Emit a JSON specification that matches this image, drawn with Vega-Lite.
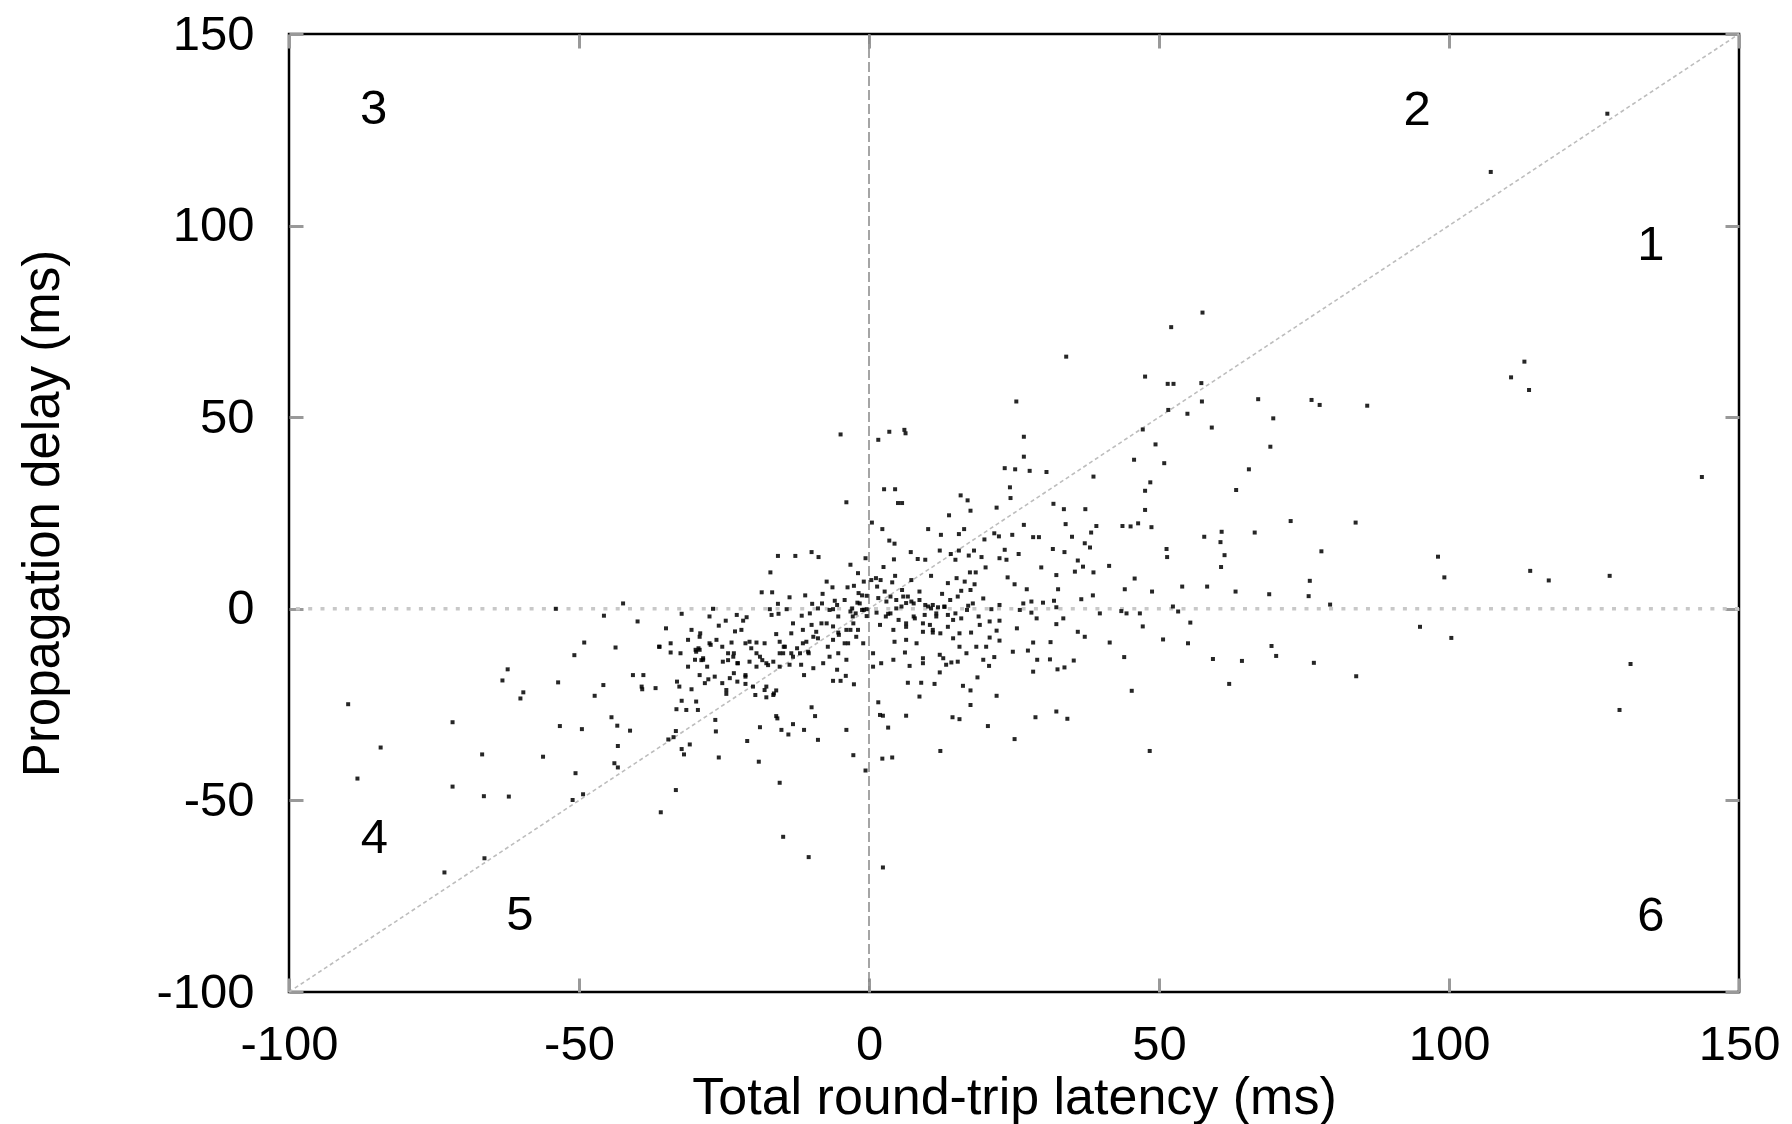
{
  "$schema": "https://vega.github.io/schema/vega-lite/v6.json",
  "width": 1450,
  "height": 958,
  "autosize": {"type": "none"},
  "padding": {"left": 289, "top": 34, "right": 53, "bottom": 132},
  "background": "white",
  "config": {
    "view": {"stroke": "#000", "strokeWidth": 2.5},
    "font": "Liberation Sans",
    "axis": {
      "grid": false,
      "domain": false,
      "tickColor": "#999",
      "tickWidth": 3,
      "tickSize": -14,
      "labelFlush": false,
      "labelOverlap": false,
      "labelExpr": "'' + datum.value",
      "labelFont": "Liberation Sans",
      "labelFontSize": 49,
      "labelColor": "#000",
      "titleFont": "Liberation Sans",
      "titleFontSize": 51,
      "titleFontWeight": "normal",
      "titleColor": "#000"
    }
  },
  "datasets": {
    "pts": [
      {"x":127.3,"y":129.2},{"x":107.2,"y":114.0},
      {"x":57.5,"y":77.3},{"x":52.1,"y":73.5},{"x":34.0,"y":65.8},{"x":47.6,"y":60.6},{"x":51.5,"y":58.7},{"x":52.5,"y":58.7},{"x":57.3,"y":58.9},{"x":113.0,"y":64.5},{"x":110.7,"y":60.4},{"x":113.8,"y":57.1},{"x":25.4,"y":54.1},{"x":57.4,"y":54.1},{"x":67.1,"y":54.7},{"x":76.3,"y":54.5},{"x":77.7,"y":53.2},{"x":85.9,"y":53.0},{"x":51.6,"y":51.9},{"x":54.9,"y":50.9},{"x":59.1,"y":47.3},{"x":69.7,"y":49.7},{"x":47.2,"y":46.8},{"x":49.4,"y":42.9},{"x":69.2,"y":42.3},{"x":-4.9,"y":45.5},{"x":1.6,"y":44.1},{"x":3.5,"y":46.2},{"x":6.1,"y":46.7},{"x":6.3,"y":45.8},{"x":26.7,"y":44.9},
      {"x":65.5,"y":36.4},{"x":143.6,"y":34.4},{"x":63.3,"y":31.0},{"x":72.7,"y":22.9},{"x":83.9,"y":22.5},{"x":66.5,"y":19.9},{"x":60.8,"y":20.1},{"x":57.8,"y":18.8},{"x":60.6,"y":17.4},{"x":61.3,"y":14.0},{"x":78.0,"y":15.0},{"x":98.1,"y":13.6},{"x":60.7,"y":10.9},{"x":114.0,"y":9.9},{"x":117.2,"y":7.4},{"x":127.7,"y":8.6},{"x":99.2,"y":8.2},{"x":76.0,"y":7.3},{"x":58.3,"y":5.8},{"x":63.2,"y":4.5},{"x":69.0,"y":3.8},{"x":75.8,"y":3.3},{"x":79.5,"y":1.1},{"x":95.0,"y":-4.7},{"x":100.4,"y":-7.6},{"x":69.4,"y":-9.7},{"x":70.2,"y":-12.3},{"x":59.3,"y":-13.1},{"x":64.3,"y":-13.6},{"x":76.7,"y":-14.1},{"x":131.3,"y":-14.4},{"x":84.0,"y":-17.6},{"x":62.1,"y":-19.6},{"x":129.4,"y":-26.4},
      {"x":-3.9,"y":27.8},{"x":2.6,"y":31.2},{"x":4.5,"y":31.2},{"x":5.0,"y":27.6},{"x":0.5,"y":22.5},{"x":2.3,"y":20.8},{"x":3.5,"y":17.8},{"x":4.4,"y":17.0},{"x":4.3,"y":12.9},{"x":2.5,"y":10.9},{"x":4.5,"y":8.6},{"x":-15.7,"y":13.8},{"x":-12.7,"y":13.8},{"x":-9.9,"y":14.8},{"x":-8.7,"y":13.5},{"x":-17.0,"y":9.5},{"x":-3.2,"y":11.5},{"x":-0.6,"y":13.2},{"x":-1.9,"y":9.3},{"x":-7.3,"y":7.1},{"x":-6.3,"y":5.6},{"x":-3.7,"y":5.6},{"x":-2.6,"y":6.0},{"x":1.2,"y":8.0},{"x":2.0,"y":7.5},{"x":4.0,"y":6.9},{"x":-0.9,"y":7.1},{"x":-18.5,"y":4.3},{"x":-16.7,"y":4.3},{"x":-13.7,"y":3.0},{"x":-11.0,"y":3.5},{"x":-8.0,"y":3.9},{"x":-5.9,"y":2.1},{"x":-1.8,"y":4.1},{"x":-0.4,"y":3.4},{"x":1.6,"y":2.8},{"x":3.0,"y":1.9},{"x":-42.4,"y":1.4},{"x":-26.9,"y":0.0},{"x":-45.7,"y":-1.8},{"x":-39.9,"y":-3.3},{"x":-32.3,"y":-1.3},{"x":-27.5,"y":-2.0},{"x":-24.7,"y":-3.1},{"x":-22.8,"y":-1.6},{"x":-21.7,"y":-3.1},{"x":-21.1,"y":-2.2},{"x":-17.1,"y":-0.1},{"x":-16.8,"y":-1.6},{"x":-15.7,"y":1.3},{"x":-15.6,"y":-1.3},{"x":-14.2,"y":-0.1},{"x":-11.6,"y":-1.8},{"x":-9.8,"y":1.3},{"x":-10.2,"y":-1.2},{"x":-8.8,"y":0.1},{"x":-6.2,"y":-0.1},{"x":-5.3,"y":-2.0},{"x":-3.2,"y":-0.7},{"x":-2.3,"y":-1.2},{"x":-1.2,"y":-0.3},{"x":-0.4,"y":-0.1},{"x":-0.4,"y":-1.9},{"x":-2.8,"y":-2.0},{"x":-2.0,"y":1.6},{"x":-1.2,"y":3.5},{"x":1.3,"y":-1.0},{"x":3.3,"y":-1.3},{"x":4.7,"y":0.1},{"x":-35.0,"y":-5.1},{"x":-30.6,"y":-5.5},{"x":-29.2,"y":-7.3},{"x":-25.9,"y":-4.4},{"x":-23.1,"y":-5.9},{"x":-22.0,"y":-5.5},{"x":-43.7,"y":-10.1},{"x":-36.1,"y":-9.9},{"x":-34.2,"y":-9.0},{"x":-31.2,"y":-8.1},{"x":-27.5,"y":-9.0},{"x":-26.3,"y":-8.1},{"x":-23.7,"y":-8.8},{"x":-20.6,"y":-8.6},{"x":-19.4,"y":-8.8},{"x":-18.0,"y":-9.0},{"x":-16.0,"y":-6.6},{"x":-13.1,"y":-3.8},{"x":-13.4,"y":-6.4},{"x":-11.4,"y":-5.5},{"x":-9.9,"y":-4.2},{"x":-9.1,"y":-6.0},{"x":-8.2,"y":-3.8},{"x":-7.3,"y":-3.8},{"x":-6.2,"y":-4.6},{"x":-5.3,"y":-6.2},{"x":-3.9,"y":-5.5},{"x":-2.7,"y":-3.8},{"x":-1.9,"y":-5.5},{"x":-3.6,"y":-9.0},{"x":-1.0,"y":-9.0},{"x":1.9,"y":-4.2},{"x":2.9,"y":-2.0},{"x":4.2,"y":-5.5},{"x":4.4,"y":-8.6},{"x":-10.8,"y":-8.6},{"x":-9.6,"y":-7.3},{"x":-14.5,"y":-9.9},{"x":-15.4,"y":-8.6},
      {"x":26.7,"y":39.7},{"x":23.4,"y":36.7},{"x":25.2,"y":36.4},{"x":27.7,"y":36.0},{"x":30.6,"y":35.7},{"x":45.7,"y":38.9},{"x":50.9,"y":38.0},{"x":38.7,"y":34.5},{"x":48.5,"y":33.0},{"x":47.6,"y":30.8},{"x":24.3,"y":31.7},{"x":24.4,"y":28.9},{"x":15.8,"y":29.6},{"x":17.0,"y":28.3},{"x":5.7,"y":27.6},{"x":31.8,"y":27.4},{"x":33.6,"y":26.0},{"x":37.3,"y":26.0},{"x":47.6,"y":25.8},{"x":13.8,"y":24.4},{"x":17.5,"y":25.6},{"x":22.0,"y":26.4},{"x":10.2,"y":20.8},{"x":12.4,"y":19.3},{"x":15.5,"y":19.5},{"x":16.4,"y":20.8},{"x":19.9,"y":18.1},{"x":21.6,"y":19.7},{"x":22.4,"y":18.9},{"x":24.7,"y":19.3},{"x":26.7,"y":21.9},{"x":28.3,"y":18.7},{"x":29.3,"y":18.7},{"x":33.9,"y":22.1},{"x":35.0,"y":18.8},{"x":38.3,"y":19.9},{"x":39.2,"y":21.6},{"x":43.7,"y":21.6},{"x":45.1,"y":21.5},{"x":46.4,"y":22.3},{"x":48.7,"y":21.3},{"x":37.2,"y":17.1},{"x":38.1,"y":16.0},{"x":51.3,"y":15.6},{"x":51.4,"y":13.5},{"x":7.2,"y":14.8},{"x":8.4,"y":13.0},{"x":9.7,"y":12.8},{"x":12.2,"y":15.2},{"x":14.1,"y":14.3},{"x":15.5,"y":15.2},{"x":14.9,"y":12.8},{"x":17.2,"y":13.9},{"x":18.1,"y":15.2},{"x":19.4,"y":13.5},{"x":20.1,"y":10.8},{"x":22.5,"y":13.2},{"x":23.4,"y":15.4},{"x":23.7,"y":12.8},{"x":25.8,"y":14.3},{"x":31.7,"y":15.6},{"x":33.7,"y":14.8},{"x":29.7,"y":10.8},{"x":35.5,"y":9.7},{"x":36.9,"y":11.0},{"x":38.7,"y":9.5},{"x":36.0,"y":12.6},{"x":41.4,"y":11.2},{"x":45.8,"y":7.9},{"x":54.0,"y":5.8},{"x":48.8,"y":4.5},{"x":44.1,"y":5.1},{"x":10.7,"y":8.6},{"x":13.6,"y":6.7},{"x":15.1,"y":8.0},{"x":16.5,"y":7.1},{"x":17.4,"y":9.5},{"x":18.4,"y":9.5},{"x":18.2,"y":6.4},{"x":17.5,"y":4.9},{"x":23.9,"y":8.2},{"x":25.1,"y":6.4},{"x":32.3,"y":8.8},{"x":27.2,"y":5.1},{"x":32.6,"y":5.1},{"x":38.6,"y":3.5},{"x":36.6,"y":2.5},{"x":7.3,"y":7.5},{"x":8.7,"y":4.5},{"x":12.6,"y":3.9},{"x":15.3,"y":3.2},{"x":15.9,"y":4.7},{"x":19.7,"y":2.7},{"x":26.6,"y":1.4},{"x":28.0,"y":1.9},{"x":30.0,"y":1.6},{"x":31.9,"y":2.1},{"x":5.9,"y":3.2},{"x":6.4,"y":1.5},{"x":5.6,"y":0.6},{"x":7.3,"y":1.9},{"x":10.2,"y":0.6},{"x":11.0,"y":1.0},{"x":11.9,"y":0.4},{"x":13.0,"y":0.6},{"x":13.6,"y":-1.6},{"x":9.6,"y":-1.6},{"x":11.6,"y":-2.0},{"x":17.1,"y":0.8},{"x":21.1,"y":-0.1},{"x":22.5,"y":1.0},{"x":26.0,"y":-0.3},{"x":28.0,"y":-1.0},{"x":28.9,"y":-2.5},{"x":32.3,"y":0.4},{"x":33.5,"y":-2.5},{"x":39.8,"y":-1.2},{"x":43.5,"y":-0.6},{"x":44.4,"y":-1.2},{"x":46.7,"y":-1.2},{"x":52.4,"y":0.6},{"x":53.3,"y":-0.7},{"x":55.4,"y":-3.6},{"x":47.2,"y":-4.6},{"x":36.0,"y":-6.0},{"x":37.2,"y":-7.3},{"x":32.3,"y":-4.0},{"x":25.5,"y":-5.1},{"x":28.3,"y":-8.8},{"x":31.3,"y":-8.7},{"x":41.5,"y":-8.8},{"x":50.7,"y":-8.0},{"x":55.0,"y":-9.0},{"x":6.4,"y":-3.8},{"x":7.9,"y":-2.5},{"x":9.3,"y":-6.0},{"x":11.0,"y":-6.2},{"x":10.5,"y":-4.2},{"x":14.5,"y":-2.9},{"x":15.6,"y":-6.4},{"x":17.6,"y":-6.2},{"x":19.1,"y":-4.2},{"x":20.8,"y":-3.3},{"x":22.5,"y":-3.1},{"x":14.5,"y":-7.7},{"x":20.8,"y":-7.5},{"x":22.0,"y":-5.7},{"x":22.5,"y":-8.3},{"x":8.2,"y":-9.0},{"x":6.4,"y":-8.1},{"x":15.6,"y":-9.9},{"x":18.5,"y":-9.9},{"x":20.2,"y":-9.9},
      {"x":-29.8,"y":-11.2},{"x":-29.2,"y":-10.7},{"x":-24.3,"y":-11.6},{"x":-23.4,"y":-12.5},{"x":-22.6,"y":-14.2},{"x":-30.0,"y":-13.3},{"x":-28.6,"y":-13.3},{"x":-25.2,"y":-13.8},{"x":-20.6,"y":-13.8},{"x":-19.4,"y":-15.1},{"x":-18.8,"y":-12.5},{"x":-17.7,"y":-14.2},{"x":-16.5,"y":-13.8},{"x":-15.4,"y":-15.1},{"x":-14.8,"y":-11.6},{"x":-13.1,"y":-12.5},{"x":-11.9,"y":-11.6},{"x":-10.5,"y":-11.2},{"x":-13.7,"y":-14.6},{"x":-11.7,"y":-14.6},{"x":-9.6,"y":-15.5},{"x":-7.9,"y":-14.2},{"x":-6.8,"y":-12.5},{"x":-5.3,"y":-11.6},{"x":-5.5,"y":-15.9},{"x":-3.9,"y":-13.3},{"x":0.7,"y":-15.1},{"x":2.1,"y":-14.2},{"x":4.2,"y":-13.3},{"x":0.7,"y":-11.6},{"x":-40.7,"y":-17.3},{"x":-38.9,"y":-17.3},{"x":-45.8,"y":-19.9},{"x":-39.2,"y":-20.3},{"x":-39.1,"y":-21.0},{"x":-36.8,"y":-20.7},{"x":-33.1,"y":-19.0},{"x":-32.7,"y":-20.3},{"x":-30.6,"y":-21.0},{"x":-29.2,"y":-17.3},{"x":-28.3,"y":-19.4},{"x":-27.7,"y":-18.4},{"x":-24.0,"y":-18.1},{"x":-22.7,"y":-19.0},{"x":-21.3,"y":-17.3},{"x":-21.3,"y":-19.6},{"x":-19.6,"y":-22.5},{"x":-17.7,"y":-20.3},{"x":-16.0,"y":-21.3},{"x":-16.5,"y":-22.5},{"x":-17.7,"y":-23.1},{"x":-24.6,"y":-22.2},{"x":-11.2,"y":-17.3},{"x":-6.2,"y":-18.8},{"x":-4.9,"y":-18.8},{"x":-4.0,"y":-17.5},{"x":-2.6,"y":-19.7},{"x":-9.9,"y":-25.7},{"x":-9.3,"y":-28.0},{"x":-16.0,"y":-28.0},{"x":-15.8,"y":-28.6},{"x":-13.1,"y":-30.1},{"x":-15.1,"y":-31.6},{"x":-13.9,"y":-32.8},{"x":-11.2,"y":-31.6},{"x":-8.8,"y":-34.2},{"x":-3.9,"y":-31.6},{"x":-18.8,"y":-30.9},{"x":-21.0,"y":-34.5},{"x":1.6,"y":-24.4},{"x":1.9,"y":-27.7},{"x":2.4,"y":-27.9},{"x":3.3,"y":-31.0},{"x":2.3,"y":-39.1},{"x":4.0,"y":-38.8},{"x":-2.7,"y":-38.2},{"x":-0.6,"y":-42.2},{"x":-19.0,"y":-39.9},{"x":-15.4,"y":-45.4},{"x":-25.9,"y":-38.8},{"x":-33.3,"y":-47.3},{"x":-35.9,"y":-53.1},{"x":-14.8,"y":-59.5},{"x":-33.3,"y":-31.9},{"x":-33.7,"y":-33.5},{"x":-32.3,"y":-36.6},{"x":-31.9,"y":-38.0},{"x":-30.9,"y":-35.4},{"x":-26.5,"y":-29.0},{"x":-26.4,"y":-32.0},{"x":-29.8,"y":-24.2},{"x":-29.5,"y":-26.4},{"x":-31.5,"y":-26.4},{"x":-33.2,"y":-26.2},{"x":-32.3,"y":-24.0},{"x":-44.4,"y":-28.3},{"x":-43.4,"y":-30.5},{"x":-41.2,"y":-31.8},{"x":-43.3,"y":-35.8},{"x":-43.9,"y":-40.3},{"x":-43.3,"y":-41.4},{"x":-34.6,"y":-34.1},
      {"x":6.2,"y":-11.4},{"x":7.0,"y":-14.9},{"x":9.3,"y":-12.9},{"x":9.3,"y":-14.2},{"x":12.2,"y":-12.0},{"x":12.8,"y":-12.9},{"x":13.3,"y":-14.6},{"x":14.2,"y":-14.0},{"x":15.3,"y":-13.8},{"x":16.8,"y":-11.6},{"x":19.7,"y":-13.3},{"x":21.6,"y":-12.6},{"x":20.7,"y":-14.9},{"x":24.8,"y":-11.2},{"x":27.4,"y":-10.9},{"x":29.0,"y":-13.3},{"x":31.2,"y":-13.2},{"x":35.3,"y":-13.5},{"x":28.3,"y":-16.4},{"x":32.5,"y":-15.8},{"x":33.7,"y":-15.3},{"x":44.0,"y":-12.6},{"x":45.3,"y":-21.4},{"x":12.2,"y":-16.6},{"x":6.7,"y":-19.3},{"x":9.0,"y":-19.3},{"x":11.3,"y":-19.6},{"x":16.2,"y":-20.1},{"x":17.5,"y":-21.3},{"x":18.7,"y":-17.9},{"x":8.7,"y":-22.9},{"x":22.0,"y":-22.7},{"x":17.5,"y":-25.1},{"x":6.4,"y":-27.9},{"x":14.4,"y":-28.3},{"x":15.6,"y":-28.8},{"x":20.5,"y":-30.6},{"x":28.7,"y":-28.3},{"x":32.3,"y":-26.8},{"x":34.2,"y":-28.7},{"x":25.1,"y":-34.0},{"x":12.3,"y":-37.1},{"x":48.4,"y":-37.1},
      {"x":-54.0,"y":0.0},{"x":-49.1,"y":-8.8},{"x":-50.8,"y":-12.1},{"x":-62.3,"y":-15.8},{"x":-63.2,"y":-18.7},{"x":-53.6,"y":-19.2},{"x":-59.6,"y":-21.8},{"x":-60.1,"y":-23.4},{"x":-47.3,"y":-22.7},{"x":-89.8,"y":-24.9},{"x":-71.8,"y":-29.6},{"x":-53.3,"y":-30.6},{"x":-49.5,"y":-31.4},{"x":-84.2,"y":-36.2},{"x":-66.7,"y":-38.0},{"x":-56.2,"y":-38.6},{"x":-50.6,"y":-42.9},{"x":-88.2,"y":-44.3},{"x":-71.8,"y":-46.4},{"x":-66.4,"y":-48.9},{"x":-62.1,"y":-49.0},{"x":-51.1,"y":-49.9},{"x":-49.3,"y":-48.4},{"x":-66.3,"y":-65.1},{"x":-73.2,"y":-68.8},
      {"x":-10.4,"y":-64.8},{"x":2.4,"y":-67.5},
      {"x":-29.1,"y":-6.4},{"x":-29.4,"y":-10.3},{"x":-28.6,"y":-12.9},{"x":-27.3,"y":-9.4},{"x":-25.3,"y":-9.9},{"x":-24.3,"y":-13.4},{"x":-23.3,"y":-11.6},{"x":-22.7,"y":-14.2},{"x":-21.3,"y":-9.0},{"x":-20.3,"y":-10.3},{"x":-19.4,"y":-11.6},{"x":-18.4,"y":-13.4},{"x":-17.4,"y":-14.7},{"x":-15.4,"y":-11.6},{"x":-14.7,"y":-9.9},{"x":-13.4,"y":-11.6},{"x":-12.4,"y":-10.3},{"x":-11.4,"y":-9.0},{"x":-10.4,"y":-11.6},{"x":-8.8,"y":-7.7},{"x":-7.1,"y":-9.9},{"x":-6.2,"y":-8.1},{"x":-5.2,"y":-6.8},{"x":-4.2,"y":-9.0},{"x":-3.2,"y":-5.5},{"x":-2.2,"y":-7.3},
      {"x":0.4,"y":7.5},{"x":1.4,"y":5.8},{"x":2.7,"y":4.5},{"x":3.7,"y":3.2},{"x":4.7,"y":2.3},{"x":5.7,"y":4.9},{"x":6.7,"y":3.2},{"x":7.7,"y":1.4},{"x":8.7,"y":2.3},{"x":9.7,"y":1.0},{"x":10.7,"y":0.1},{"x":11.6,"y":-1.2},{"x":13.0,"y":0.5},{"x":14.0,"y":2.3},{"x":14.9,"y":-1.2},{"x":15.9,"y":-2.5},{"x":16.9,"y":-0.3},{"x":17.9,"y":1.4},{"x":18.9,"y":-2.0},{"x":3.7,"y":-1.2},{"x":5.1,"y":-2.9},{"x":6.4,"y":-4.7},{"x":7.7,"y":-2.0},{"x":9.3,"y":-3.8},{"x":11.0,"y":-5.5},{"x":12.3,"y":-6.4},{"x":13.6,"y":-4.7},
      {"x":-36.2,"y":-9.9},{"x":-34.2,"y":-11.4},{"x":-32.5,"y":-11.6},{"x":-31.2,"y":-15.1},{"x":-29.9,"y":-10.7},{"x":-28.9,"y":-13.4},{"x":-27.9,"y":-15.1},{"x":-26.6,"y":-17.7},{"x":-25.3,"y":-19.4},{"x":-24.6,"y":-21.2},{"x":-23.3,"y":-16.8},{"x":-21.3,"y":-17.7},{"x":-20.0,"y":-20.3},{"x":-18.0,"y":-21.2},{"x":-16.4,"y":-22.1},
      {"x":-8.1,"y":1.4},{"x":-6.8,"y":-0.3},{"x":-5.5,"y":1.0},{"x":-4.2,"y":2.3},{"x":-2.9,"y":0.1},{"x":-1.6,"y":1.4},{"x":-0.9,"y":-0.3}
    ],
    "regions": [
      {"x":134.8,"y":94.9,"label":"1"},
      {"x":94.5,"y":130.2,"label":"2"},
      {"x":-85.4,"y":130.5,"label":"3"},
      {"x":-85.3,"y":-59.8,"label":"4"},
      {"x":-60.2,"y":-79.9,"label":"5"},
      {"x":134.8,"y":-80.2,"label":"6"}
    ]
  },
  "resolve": {"axis": {"x": "independent", "y": "independent"}},
  "layer": [
    {
      "data": {"values": [{"x": -100, "y": -100, "x2": 150, "y2": 150}]},
      "mark": {"type": "rule", "color": "#bdbdbd", "strokeWidth": 1.6, "strokeDash": [4, 3]},
      "encoding": {
        "x": {"field": "x", "type": "quantitative", "scale": {"domain": [-100, 150], "nice": false, "zero": false},
              "axis": {"orient": "top", "labels": false, "title": null, "values": [-100, -50, 0, 50, 100, 150]}},
        "y": {"field": "y", "type": "quantitative", "scale": {"domain": [-100, 150], "nice": false, "zero": false},
              "axis": {"orient": "right", "labels": false, "title": null, "values": [-100, -50, 0, 50, 100, 150]}},
        "x2": {"field": "x2"},
        "y2": {"field": "y2"}
      }
    },
    {
      "data": {"values": [{"x": 0}]},
      "mark": {"type": "rule", "color": "#888", "strokeWidth": 1.5, "strokeDash": [10, 4]},
      "encoding": {"x": {"field": "x", "type": "quantitative", "axis": null}}
    },
    {
      "data": {"values": [{"y": 0}]},
      "mark": {"type": "rule", "color": "#c8c8c8", "strokeWidth": 3.5, "strokeDash": [4, 8.3]},
      "encoding": {"y": {"field": "y", "type": "quantitative", "axis": null}}
    },
    {
      "data": {"name": "pts"},
      "mark": {"type": "square", "filled": true, "size": 16, "color": "#000", "opacity": 0.85},
      "encoding": {
        "x": {"field": "x", "type": "quantitative",
              "axis": {"orient": "bottom", "title": "Total round-trip latency (ms)", "titleFontSize": 52, "values": [-100, -50, 0, 50, 100, 150], "labelPadding": 42, "titlePadding": 3}},
        "y": {"field": "y", "type": "quantitative",
              "axis": {"orient": "left", "title": "Propagation delay (ms)", "values": [-100, -50, 0, 50, 100, 150], "labelPadding": 49, "titlePadding": 86}}
      }
    },
    {
      "data": {"name": "regions"},
      "mark": {"type": "text", "fontSize": 49, "font": "Liberation Sans", "color": "#000", "align": "center", "baseline": "middle"},
      "encoding": {
        "x": {"field": "x", "type": "quantitative", "axis": null},
        "y": {"field": "y", "type": "quantitative", "axis": null},
        "text": {"field": "label"}
      }
    }
  ]
}
